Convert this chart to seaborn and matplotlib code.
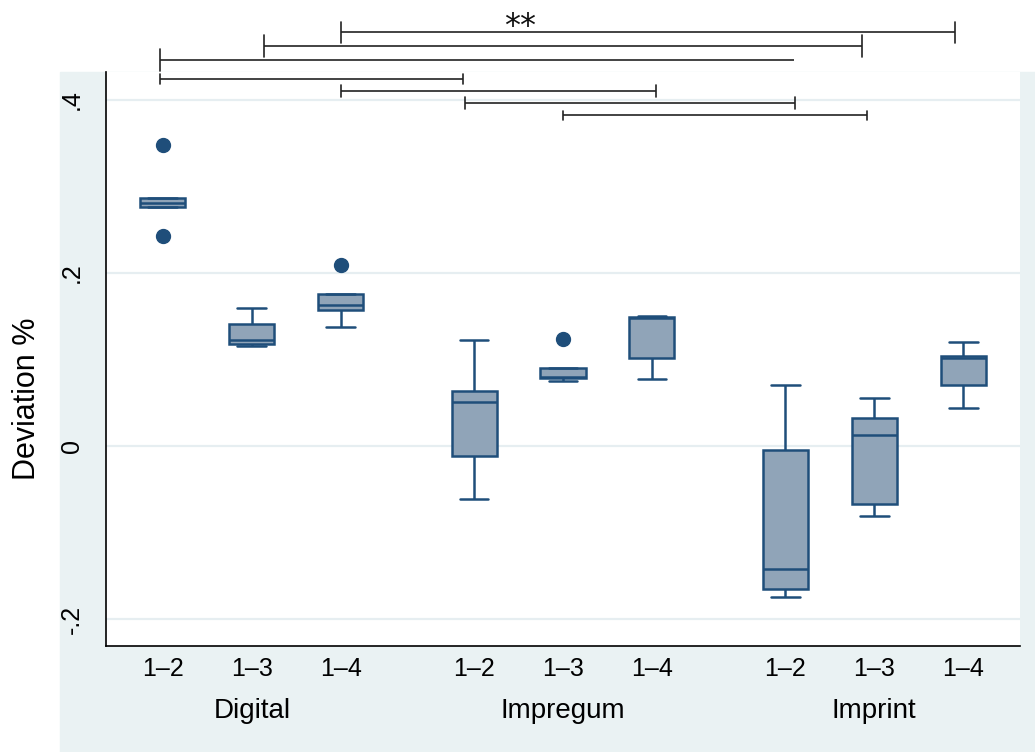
import numpy as np
import pandas as pd
import matplotlib
matplotlib.use("Agg")
import matplotlib.pyplot as plt
import matplotlib.transforms as mtransforms
from matplotlib.patches import Rectangle
import seaborn as sns

# ---------------- data ----------------
groups = ["Digital", "Impregum", "Imprint"]
comparisons = ["1\u20132", "1\u20133", "1\u20134"]

digital_12 = [0.243, 0.276, 0.281, 0.287, 0.348]
digital_13 = [0.115, 0.118, 0.122, 0.141, 0.159]
digital_14 = [0.137, 0.157, 0.163, 0.176, 0.209]
impregum_12 = [-0.061, -0.011, 0.051, 0.063, 0.123]
impregum_13 = [0.0746, 0.078, 0.080, 0.0904, 0.1235]
impregum_14 = [0.0773, 0.102, 0.148, 0.149, 0.150]
imprint_12 = [-0.174, -0.1646, -0.142, -0.0042, 0.0704]
imprint_13 = [-0.0804, -0.0673, 0.0127, 0.0323, 0.056]
imprint_14 = [0.0438, 0.0704, 0.102, 0.104, 0.1196]

yticks = [-0.2, 0.0, 0.2, 0.4]
ytick_labels = ["-.2", "0", ".2", ".4"]

# significance brackets: (x start, x end, y level, left tick half, right tick half)
brackets = [
    (0.285, 2.260, 0.478, 0.0121, 0.0121),
    (0.0376, 1.960, 0.4615, 0.0127, 0.0127),
    (-0.296, 1.743, 0.4454, 0.0127, 0.0),
    (-0.296, 0.678, 0.4238, 0.0054, 0.0062),
    (0.286, 1.299, 0.410, 0.0067, 0.0065),
    (0.685, 1.746, 0.396, 0.0066, 0.0066),
    (1.0, 1.977, 0.382, 0.0054, 0.0054),
]
star_text = "**"
star_pos = (0.862, 0.484)

series = {
    ("Digital", comparisons[0]): digital_12,
    ("Digital", comparisons[1]): digital_13,
    ("Digital", comparisons[2]): digital_14,
    ("Impregum", comparisons[0]): impregum_12,
    ("Impregum", comparisons[1]): impregum_13,
    ("Impregum", comparisons[2]): impregum_14,
    ("Imprint", comparisons[0]): imprint_12,
    ("Imprint", comparisons[1]): imprint_13,
    ("Imprint", comparisons[2]): imprint_14,
}
rows = []
for (g, c), vals in series.items():
    for v in vals:
        rows.append({"group": g, "comp": c, "dev": v})
df = pd.DataFrame(rows)

# ---------------- style ----------------
sns.set_style("white")
plt.rcParams["font.family"] = ["Liberation Sans", "DejaVu Sans"]
plt.rcParams["text.color"] = "black"
plt.rcParams["xtick.color"] = "black"
plt.rcParams["ytick.color"] = "black"
plt.rcParams["axes.labelcolor"] = "black"

fill = "#90A4B8"
edge = "#1F4E7A"
bg = "#EAF2F3"

W, H = 1035, 752
fig = plt.figure(figsize=(W / 100, H / 100), dpi=100)
fig.patches.append(Rectangle((60 / W, 0), (W - 60) / W, 680 / H,
                             transform=fig.transFigure, color=bg, zorder=-1))
ax = fig.add_axes([106 / W, 1 - 646 / H, (1020 - 106) / W, (646 - 72) / H])
ax.set_facecolor("white")

width = 0.858
sns.boxplot(data=df, x="group", y="dev", hue="comp", order=groups,
            hue_order=comparisons, palette=[fill] * 3, saturation=1,
            width=width, gap=0.494, linewidth=1.8, linecolor=edge,
            whis=1.5, capwidths=0.093,
            flierprops=dict(marker="o", markersize=10,
                            markerfacecolor=edge, markeredgecolor=edge),
            legend=False, ax=ax)

ax.set_xlim(-0.469, 2.469)
ax.set_ylim(-0.231, 0.432)

ax.set_yticks(yticks)
ax.set_yticklabels(ytick_labels, rotation=90, va="center", fontsize=18)
ax.grid(axis="y", color="#E6EEF1", lw=1.6)
ax.grid(axis="x", visible=False)
ax.set_axisbelow(True)

offsets = (np.arange(len(comparisons)) - 1) * width / len(comparisons)
xpos = [gi + o for gi in range(len(groups)) for o in offsets]
ax.set_xticks(xpos)
ax.set_xticklabels(comparisons * len(groups), fontsize=18)
ax.tick_params(axis="x", length=0, pad=8)
ax.tick_params(axis="y", length=8, width=1.1, pad=8, color="black")

ax.set_xlabel("")
ax.set_ylabel("Deviation %", fontsize=22)
ax.yaxis.set_label_coords(-0.07, 0.43)

trans = mtransforms.blended_transform_factory(ax.transData, ax.transAxes)
for gi, g in enumerate(groups):
    ax.text(gi, -0.113, g, transform=trans, ha="center", va="center", fontsize=20)

for s in ["top", "right"]:
    ax.spines[s].set_visible(False)
for s in ["left", "bottom"]:
    ax.spines[s].set_color("black")
    ax.spines[s].set_linewidth(1.2)

bc = "#222222"
for x0, x1, y, lt, rt in brackets:
    ax.plot([x0, x1], [y, y], color=bc, lw=1.2, clip_on=False, solid_capstyle="butt")
    if lt:
        ax.plot([x0, x0], [y - lt, y + lt], color=bc, lw=1.2, clip_on=False)
    if rt:
        ax.plot([x1, x1], [y - rt, y + rt], color=bc, lw=1.2, clip_on=False)
ax.text(star_pos[0], star_pos[1], star_text, ha="center", va="center",
        fontsize=23, family="DejaVu Sans", color="#111111", clip_on=False)

fig.savefig("out.png", dpi=100)
